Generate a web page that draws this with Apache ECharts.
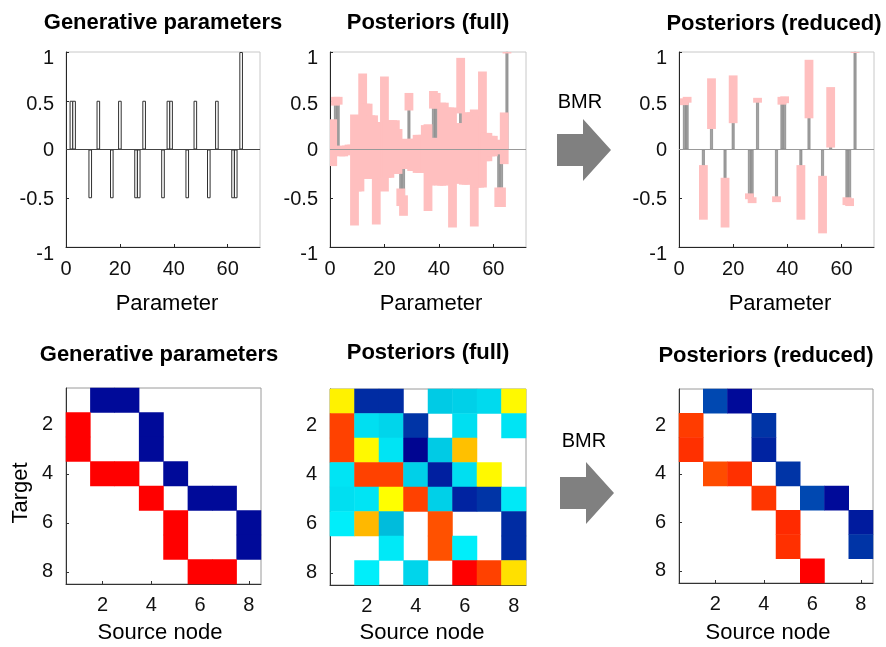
<!DOCTYPE html>
<html>
<head>
<meta charset="utf-8">
<title>BMR</title>
<script src="https://cdn.jsdelivr.net/npm/echarts@6.0.0/dist/echarts.min.js"></script>
<style>
html,body{margin:0;padding:0;background:#fff;}
#main{width:886px;height:647px;}
</style>
</head>
<body>
<div id="main"></div>
<script>
// generative parameters: 64 connections (8x8, column by column) + 1 extra
var genVal = [
	0, 0.5, 0.5, 0, 0, 0, 0, 0,
	-0.5, 0, 0, 0.5, 0, 0, 0, 0,
	-0.5, 0, 0, 0.5, 0, 0, 0, 0,
	0, -0.5, -0.5, 0, 0.5, 0, 0, 0,
	0, 0, 0, -0.5, 0, 0.5, 0.5, 0,
	0, 0, 0, 0, -0.5, 0, 0, 0.5,
	0, 0, 0, 0, -0.5, 0, 0, 0.5,
	0, 0, 0, 0, 0, -0.5, -0.5, 0,
	1
];
// posterior means / 90% CI half widths, full model
var fullMean = [
	0.07, 0.495, 0.5, -0.015, -0.02, -0.01, 0.005, 0.01,
	-0.21, -0.065, -0.04, 0.24, 0.085, 0.085, 0.025, 0.025,
	-0.245, -0.01, -0.01, 0.16, 0.005, 0.005, 0.025, 0.025,
	-0.02, -0.49, -0.575, -0.045, 0.49, -0.055, -0.055, -0.045,
	-0.045, -0.045, 0.005, -0.185, -0.125, 0.51, 0.5, -0.125,
	0.055, 0.055, 0.04, 0.04, -0.185, -0.04, -0.04, 0.655,
	-0.045, 0.01, 0.01, 0.04, -0.19, -0.02, -0.02, 0.205,
	0.025, 0.025, 0.035, 0.035, 0.025, -0.49, -0.49, 0.115,
	1.0
];
var fullCi = [
	0.24, 0.045, 0.04, 0.055, 0.05, 0.05, 0.045, 0.04,
	0.57, 0.365, 0.39, 0.54, 0.385, 0.385, 0.325, 0.325,
	0.525, 0.29, 0.29, 0.59, 0.295, 0.295, 0.275, 0.275,
	0.23, 0.09, 0.105, 0.155, 0.09, 0.165, 0.165, 0.195,
	0.195, 0.195, 0.245, 0.445, 0.245, 0.09, 0.08, 0.245,
	0.425, 0.425, 0.39, 0.39, 0.615, 0.31, 0.31, 0.285,
	0.315, 0.37, 0.37, 0.34, 0.6, 0.37, 0.37, 0.595,
	0.145, 0.145, 0.105, 0.105, 0.075, 0.1, 0.1, 0.265,
	0.015
];
// reduced model: only the parameters that survive
var redIdx  = [2, 3, 9, 12, 17, 20, 26, 27, 29, 36, 38, 39, 45, 48, 53, 56, 62, 63, 65];
var redMean = [0.49, 0.51, -0.44, 0.47, -0.545, 0.515, -0.48, -0.52, 0.505, -0.51, 0.5, 0.51, -0.44, 0.62, -0.565, 0.33, -0.53, -0.54, 1.0];
var redCi   = [0.035, 0.03, 0.28, 0.26, 0.255, 0.245, 0.03, 0.03, 0.025, 0.03, 0.04, 0.035, 0.28, 0.3, 0.295, 0.31, 0.04, 0.04, 0.01];

var nodes = ['1', '2', '3', '4', '5', '6', '7', '8'];
// rows = target, cols = source; null = blank cell
var genMat = [
	[null, -0.5, -0.5, null, null, null, null, null],
	[0.5, null, null, -0.5, null, null, null, null],
	[0.5, null, null, -0.5, null, null, null, null],
	[null, 0.5, 0.5, null, -0.5, null, null, null],
	[null, null, null, 0.5, null, -0.5, -0.5, null],
	[null, null, null, null, 0.5, null, null, -0.5],
	[null, null, null, null, 0.5, null, null, -0.5],
	[null, null, null, null, null, 0.5, 0.5, null]
];
var fullMat = [
	[0.12, -0.42, -0.42, null, -0.17, -0.16, -0.14, 0.11],
	[0.39, -0.13, -0.15, -0.4, null, -0.13, null, -0.12],
	[0.39, 0.11, -0.12, -0.55, -0.17, 0.2, null, null],
	[-0.12, 0.39, 0.39, -0.16, -0.45, -0.13, 0.11, null],
	[-0.13, -0.12, 0.1, 0.39, -0.16, -0.44, -0.4, -0.11],
	[-0.1, 0.21, -0.2, null, 0.36, null, null, -0.42],
	[null, null, -0.11, null, 0.36, -0.1, null, -0.42],
	[null, -0.1, null, -0.15, null, 0.5, 0.39, 0.15]
];
var redMat = [
	[null, -0.33, -0.5, null, null, null, null, null],
	[0.4, null, null, -0.4, null, null, null, null],
	[0.42, null, null, -0.44, null, null, null, null],
	[null, 0.37, 0.42, null, -0.4, null, null, null],
	[null, null, null, 0.41, null, -0.33, -0.5, null],
	[null, null, null, null, 0.43, null, null, -0.46],
	[null, null, null, null, 0.42, null, null, -0.4],
	[null, null, null, null, null, 0.5, null, null]
];

var FONT = 'Liberation Sans, Arial, sans-serif';
var PINK = '#ffbfbf';

function pairs(vals) {
	return vals.map(function(v, i){ return [i + 1, v]; });
}
function ciData(idx, mean, ci) {
	return mean.map(function(m, k){ return [idx[k], m - ci[k], m + ci[k]]; });
}
function cells(mat) {
	var out = [];
	mat.forEach(function(row, r){
		row.forEach(function(v, c){
			if (v !== null) out.push([c, r, v]);
		});
	});
	return out;
}
var allIdx = genVal.map(function(v, i){ return i + 1; });

function ciItem(params, api) {
	var x = api.value(0);
	var a = api.coord([x, api.value(2)]);
	var b = api.coord([x, api.value(1)]);
	var w = 8.8;
	var shape = echarts.graphic.clipRectByRect({
		x: a[0] - w / 2, y: a[1], width: w, height: Math.max(b[1] - a[1], 2)
	}, {
		x: params.coordSys.x, y: params.coordSys.y,
		width: params.coordSys.width, height: params.coordSys.height
	});
	return shape && { type: 'rect', shape: shape, style: { fill: PINK } };
}

function baseLine(color) {
	return {
		silent: true, symbol: ['none', 'none'], label: { show: false },
		lineStyle: { color: color, width: 1, type: 'solid' },
		data: [{ yAxis: 0 }]
	};
}

var grids = [
	{ left: 66, top: 52, width: 194, height: 195 },
	{ left: 330, top: 52, width: 196, height: 195 },
	{ left: 679, top: 52, width: 195, height: 195 },
	{ left: 66, top: 388, width: 195, height: 196 },
	{ left: 330, top: 389, width: 196, height: 196 },
	{ left: 679, top: 389, width: 194, height: 194 }
];
grids.forEach(function(g, i){
	g.show = true;
	g.borderWidth = 1;
	g.borderColor = i < 3 ? '#c8c8c8' : '#9a9a9a';
	g.backgroundColor = 'transparent';
});

var lbl = { fontSize: 20, fontFamily: FONT, color: '#111' };
// the value labels sit a little low in the original, most at the ends
function rs(pad) { return { fontSize: 20, fontFamily: FONT, color: '#111', padding: [pad, 0, 0, 0] }; }
var yRich = { a: rs(12), b: rs(7), c: rs(1), d: rs(3), e: rs(14) };
function yFmt(v) {
	if (v === 1) return '{a|1}';
	if (v === 0.5) return '{b|0.5}';
	if (v === 0) return '{c|0}';
	if (v === -0.5) return '{d|-0.5}';
	return '{e|-1}';
}

var xAxes = [], yAxes = [];
for (var i = 0; i < 3; i++) {
	xAxes.push({
		gridIndex: i, type: 'value', min: 0, max: 72, interval: 20,
		axisLine: { show: true, onZero: false, lineStyle: { color: '#262626' } },
		axisTick: { show: true, inside: true, length: 3, lineStyle: { color: '#262626' } },
		axisLabel: Object.assign({ margin: 12, showMaxLabel: false }, lbl),
		splitLine: { show: false }
	});
	yAxes.push({
		gridIndex: i, type: 'value', min: -1, max: 1, interval: 0.5,
		axisLine: { show: true, lineStyle: { color: '#262626' } },
		axisTick: { show: true, inside: true, length: 3, lineStyle: { color: '#262626' } },
		axisLabel: Object.assign({ margin: 12, formatter: yFmt, rich: yRich }, lbl),
		splitLine: { show: false }
	});
}
function evenOnly(idx) { return idx % 2 === 1; }
for (var j = 3; j < 6; j++) {
	xAxes.push({
		gridIndex: j, type: 'category', data: nodes,
		axisLine: { show: true, lineStyle: { color: '#333' } },
		axisTick: { show: true, inside: true, length: 3, alignWithLabel: true, interval: evenOnly, lineStyle: { color: '#333' } },
		axisLabel: Object.assign({ margin: 11, interval: evenOnly }, lbl),
		splitLine: { show: false }
	});
	yAxes.push({
		gridIndex: j, type: 'category', data: nodes, inverse: true,
		axisLine: { show: true, lineStyle: { color: '#333' } },
		axisTick: { show: true, inside: true, length: 3, alignWithLabel: true, interval: evenOnly, lineStyle: { color: '#333' } },
		axisLabel: Object.assign({ margin: 13, interval: evenOnly }, lbl),
		splitLine: { show: false }
	});
}

function txt(x, y, s, size, bold, rot) {
	return {
		type: 'text', x: x, y: y, rotation: rot || 0, silent: true,
		style: {
			text: s, fontSize: size, fontWeight: bold ? 'bold' : 'normal',
			fontFamily: FONT, fill: '#000', align: 'center', verticalAlign: 'middle'
		}
	};
}
function arrow(dx, dy) {
	var pts = [[557, 134], [583, 134], [583, 119], [611, 150], [583, 181], [583, 166], [557, 166]];
	return {
		type: 'polygon', silent: true,
		shape: { points: pts.map(function(p){ return [p[0] + dx, p[1] + dy]; }) },
		style: { fill: '#808080' }
	};
}

var option = {
	animation: false,
	backgroundColor: '#fff',
	grid: grids,
	xAxis: xAxes,
	yAxis: yAxes,
	visualMap: {
		type: 'continuous', show: false, seriesIndex: [5, 6, 7], dimension: 2,
		min: -0.6, max: 0.6,
		inRange: {
			color: ['#000088', '#000a99', '#0034a6', '#0050b5', '#00bcdc', '#00eefa', '#ffffff',
				'#ffff00', '#ffc000', '#ff7000', '#ff3c00', '#ff0000', '#ff0000']
		}
	},
	graphic: [
		txt(163, 23, 'Generative parameters', 22, true),
		txt(428, 23, 'Posteriors (full)', 22, true),
		txt(774, 24, 'Posteriors (reduced)', 22, true),
		txt(159, 355, 'Generative parameters', 22, true),
		txt(428, 353, 'Posteriors (full)', 22, true),
		txt(766, 356, 'Posteriors (reduced)', 22, true),
		txt(167, 304, 'Parameter', 22),
		txt(431, 304, 'Parameter', 22),
		txt(780, 304, 'Parameter', 22),
		txt(160, 633, 'Source node', 22),
		txt(422, 633, 'Source node', 22),
		txt(768, 633, 'Source node', 22),
		txt(21, 493, 'Target', 22, false, Math.PI / 2),
		txt(580, 102, 'BMR', 20),
		txt(584, 441, 'BMR', 20),
		arrow(0, 0),
		arrow(3, 343)
	],
	series: [
		{
			type: 'bar', xAxisIndex: 0, yAxisIndex: 0, barWidth: 3.6,
			data: pairs(genVal),
			itemStyle: { color: '#ffffff', borderColor: '#303030', borderWidth: 1 },
			markLine: baseLine('#444'), z: 2
		},
		{
			type: 'bar', xAxisIndex: 1, yAxisIndex: 1, barWidth: 2.8,
			data: pairs(fullMean),
			itemStyle: { color: '#a3a3a3', borderColor: '#777', borderWidth: 0.6 },
			markLine: baseLine('#999'), z: 2
		},
		{
			type: 'custom', xAxisIndex: 1, yAxisIndex: 1, z: 3,
			renderItem: ciItem, data: ciData(allIdx, fullMean, fullCi)
		},
		{
			type: 'bar', xAxisIndex: 2, yAxisIndex: 2, barWidth: 2.8,
			data: redIdx.map(function(p, k){ return [p, redMean[k]]; }),
			itemStyle: { color: '#a3a3a3', borderColor: '#777', borderWidth: 0.6 },
			markLine: baseLine('#999'), z: 2
		},
		{
			type: 'custom', xAxisIndex: 2, yAxisIndex: 2, z: 3,
			renderItem: ciItem, data: ciData(redIdx, redMean, redCi)
		},
		{ type: 'heatmap', xAxisIndex: 3, yAxisIndex: 3, data: cells(genMat) },
		{ type: 'heatmap', xAxisIndex: 4, yAxisIndex: 4, data: cells(fullMat) },
		{ type: 'heatmap', xAxisIndex: 5, yAxisIndex: 5, data: cells(redMat) }
	]
};

var chart = echarts.init(document.getElementById('main'), null, { renderer: 'canvas' });
chart.setOption(option);
</script>
</body>
</html>
